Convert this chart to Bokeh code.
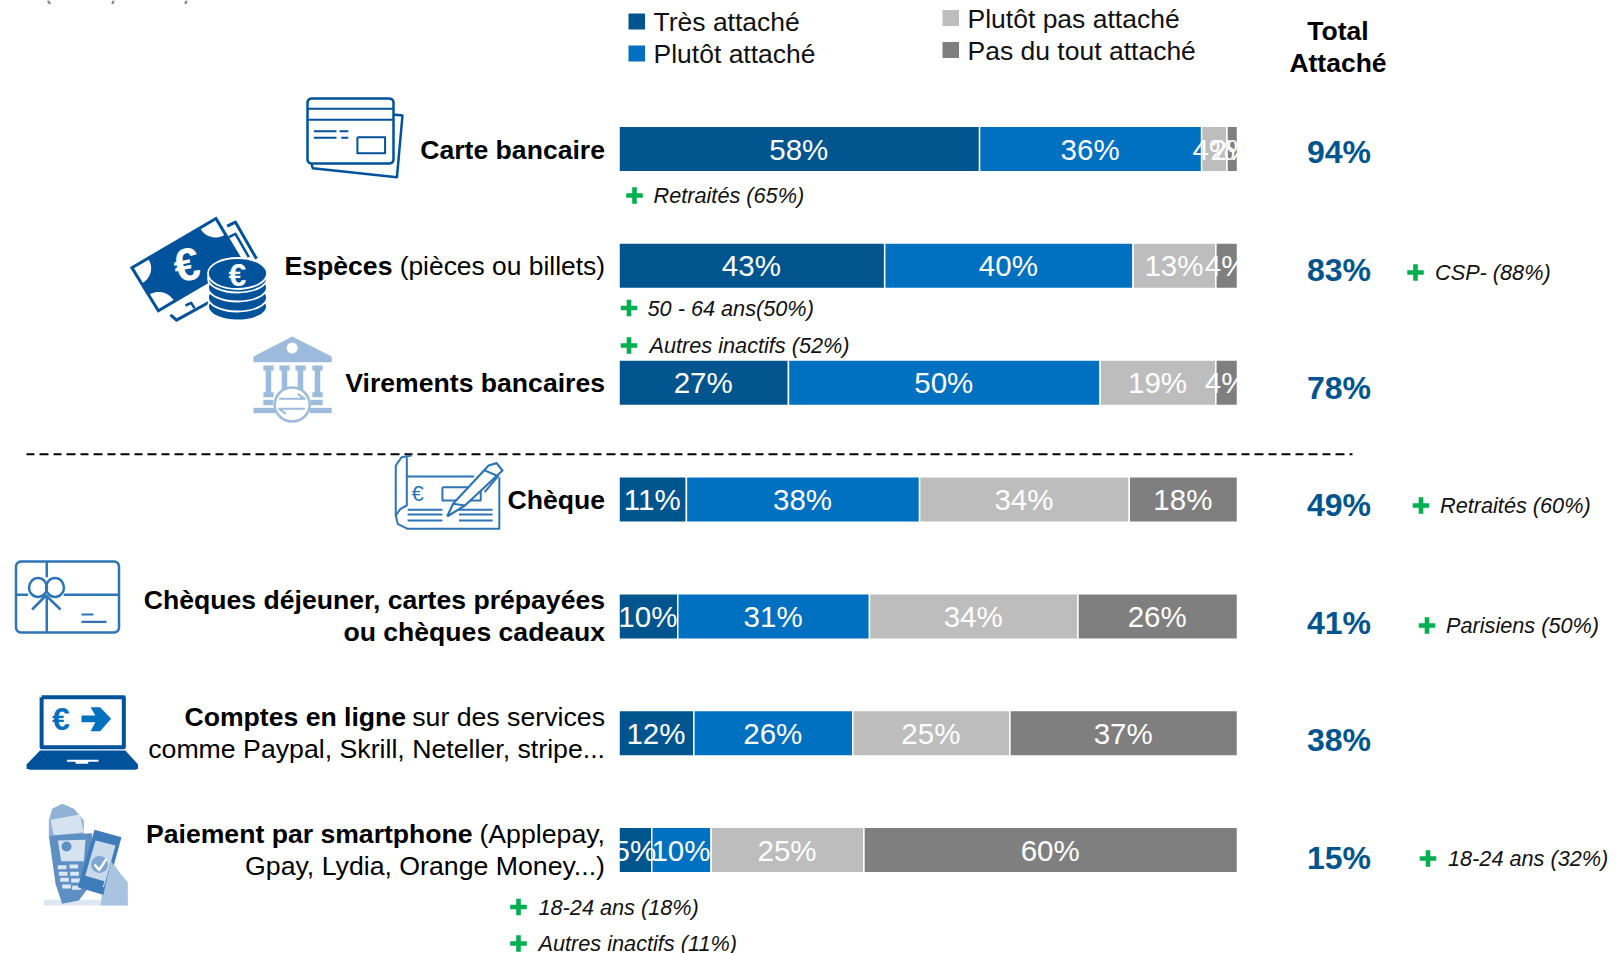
import numpy as np
from bokeh.plotting import figure
from bokeh.models import Range1d, ColumnDataSource
from bokeh.core.properties import value
from bokeh.embed import file_html
from bokeh.resources import INLINE

# ---------- data ----------
series = ["Très attaché", "Plutôt attaché", "Plutôt pas attaché", "Pas du tout attaché"]
colors = ["#00558F", "#0070C0", "#BDBDBD", "#7F7F7F"]
tres = [58.3, 43.0, 27.4, 10.9, 9.5, 12.1, 5.3]
plutot = [35.9, 40.2, 50.4, 37.7, 31.0, 25.7, 9.6]
plutot_pas = [4.1, 13.4, 18.7, 33.9, 33.7, 25.4, 24.7]
pas_du_tout = [1.7, 3.5, 3.5, 17.5, 25.8, 36.8, 60.4]
total = [94, 83, 78, 49, 41, 38, 15]

W, H = 1616, 953
FONT = value("Liberation Sans")
DARK = "#00529B"
MID = "#2E75B6"
LIGHT = "#9DBBDD"
GREEN = "#00B050"
TOTAL_C = "#00558F"
LB = 26.6
LR = 26.7

p = figure(width=W, height=H, x_range=Range1d(0, W), y_range=Range1d(H, 0),
           toolbar_location=None, output_backend="svg", min_border=0,
           outline_line_color=None, background_fill_color="white")
p.xaxis.visible = False
p.yaxis.visible = False
p.grid.visible = False

# scales of the bars: 0-100 % over the bar width, one unit per row
BX0, BX1 = 618.5, 1237.0
RY0, RP = 148.5, 116.85
sx = (BX1 - BX0) / 100
p.extra_x_ranges["pct"] = Range1d((0 - BX0) / sx, (W - BX0) / sx)
p.extra_y_ranges["row"] = Range1d((H - RY0) / RP, (0 - RY0) / RP)


def T(x, y, s, size, style="normal", color="black", align="left"):
    p.text(x=[x], y=[y], text=[s], text_font=FONT, text_font_size=f"{size}px",
           text_font_style=style, text_color=color, text_align=align, text_baseline="middle")


# ---------- bars ----------
rows = list(zip(tres, plutot, plutot_pas, pas_du_tout))
for j in range(4):
    l, r, y = [], [], []
    for i, vals in enumerate(rows):
        s = sum(vals)
        l.append(sum(vals[:j]) * 100 / s)
        r.append(sum(vals[:j + 1]) * 100 / s)
        y.append(i)
    src = ColumnDataSource(dict(l=l, r=r, y=y))
    p.hbar(y="y", left="l", right="r", height=45.5 / RP, source=src, fill_color=colors[j],
           line_color="white", line_width=1.5, x_range_name="pct", y_range_name="row")
for j in range(4):
    lab, m, y = [], [], []
    for i, vals in enumerate(rows):
        s = sum(vals)
        lab.append(f"{round(vals[j] + 1e-9)}%")
        m.append((sum(vals[:j]) + vals[j] / 2) * 100 / s)
        y.append(i)
    p.text(x=m, y=y, text=lab, text_font=FONT, text_font_size="29.5px", text_color="white",
           text_align="center", text_baseline="middle", x_range_name="pct", y_range_name="row",
           x_offset=-0.5)

# ---------- legend ----------
leg = [(628, 21, 653, 21.5), (628, 53, 653, 53.5), (942, 17.5, 967, 18.5), (942, 49.5, 967, 50.5)]
for (sxx, sy, tx, ty), name, c in zip(leg, series, colors):
    p.quad(left=[sxx], right=[sxx + 16.5], top=[sy - 8], bottom=[sy + 8], fill_color=c, line_color=None)
    T(tx, ty, name, 26.5, color="#111111")

T(1337.5, 30, "Total", 26.5, "bold", align="center")
T(1337.5, 62, "Attaché", 26.5, "bold", align="center")

# ---------- totals ----------
total_y = [151, 269, 387, 504, 622, 739, 857]
for v, y in zip(total, total_y):
    T(1338.5, y, f"{v}%", 32, "bold", TOTAL_C, "center")

# ---------- labels ----------
RX = 604.5
T(RX, 149, "Carte bancaire", LB, "bold", align="right")
T(284, 265, "Espèces", LB, "bold")
T(RX, 265, "(pièces ou billets)", 26.4, align="right")
T(RX, 382, "Virements bancaires", LB, "bold", align="right")
T(RX, 499, "Chèque", LB, "bold", align="right")
T(RX, 599.5, "Chèques déjeuner, cartes prépayées", LB, "bold", align="right")
T(RX, 631.5, "ou chèques cadeaux", LB, "bold", align="right")
T(184, 716.5, "Comptes en ligne", LB, "bold")
T(RX, 716.5, "sur des services", LR, align="right")
T(RX, 748.5, "comme Paypal, Skrill, Neteller, stripe...", LR, align="right")
T(145.5, 833.5, "Paiement par smartphone", LB, "bold")
T(RX, 833.5, "(Applepay,", LR, align="right")
T(RX, 865.5, "Gpay, Lydia, Orange Money...)", LR, align="right")

# ---------- sub-groups ----------
sub = [(634, 653, 195, "Retraités (65%)"), (628.5, 647, 307.5, "50 - 64 ans(50%)"),
       (628.5, 649, 345, "Autres inactifs (52%)"), (1415, 1434.5, 272, "CSP- (88%)"),
       (1420.5, 1439.5, 505, "Retraités (60%)"), (1426.5, 1445.5, 625, "Parisiens (50%)"),
       (1427.5, 1447.5, 858, "18-24 ans (32%)"), (518, 538, 906.5, "18-24 ans (18%)"),
       (518, 538, 943, "Autres inactifs (11%)")]
for px, tx, y, s in sub:
    p.scatter(x=[px], y=[y], marker="cross", size=16.5, line_color=GREEN, line_width=4.6)
    T(tx, y, s, 21.7, "italic", "#111111")

# dashed separator
p.line([26, 1352], [453.7, 453.7], line_color="black", line_width=2, line_dash="8 5 9 5")

# cut-off strokes of the clipped heading at the very top
for xs in ([47.5, 49.5], [113, 112], [186, 185]):
    p.line(xs, [0, 3.5], line_color="#8C8C8C", line_width=2.5)


# ---------- icons (decoration) ----------
def Z1(pts):
    return [x / 2.53 for x, y in pts], [y / 3 for x, y in pts]


def Z2(pts):
    return [x / 2.53 for x, y in pts], [y / 3 + 440 for x, y in pts]


def Zc(pts):  # cash crop
    return [x / 3 + 120 for x, y in pts], [y / 3 + 205 for x, y in pts]


def Zp(pts):  # phone crop
    return [x / 3 + 20 for x, y in pts], [y / 3 + 790 for x, y in pts]


def pl(Z, pts, c, w=2.5):
    xs, ys = Z(pts)
    p.line(xs, ys, line_color=c, line_width=w, line_join="round")


def pg(Z, pts, c):
    xs, ys = Z(pts)
    p.patch(xs, ys, fill_color=c, line_color=None)


def rrect(x0, y0, x1, y1, r):
    xs, ys = [], []
    for cx, cy, a0 in [(x1 - r, y0 + r, -90), (x1 - r, y1 - r, 0), (x0 + r, y1 - r, 90), (x0 + r, y0 + r, 180)]:
        for a in np.radians(np.linspace(a0, a0 + 90, 7)):
            xs.append(cx + r * np.cos(a))
            ys.append(cy + r * np.sin(a))
    return xs + xs[:1], ys + ys[:1]


def ell(cx, cy, rx, ry, fill, line=None, w=1.5):
    p.ellipse(x=[cx], y=[cy], width=[2 * rx], height=[2 * ry], fill_color=fill, line_color=line, line_width=w)


# card
xs, ys = rrect(307, 98, 393, 163, 4)
pl(Z1, [(994, 342), (1017, 345), (1003, 530), (790, 503), (787, 490)], DARK, 2.5)
p.line(xs, ys, line_color=DARK, line_width=2.5)
for a, b in [((776, 325), (994, 325)), ((776, 358), (994, 358)), ((793, 392), (850, 392)), ((858, 392), (880, 392)),
             ((793, 412), (850, 412)), ((862, 412), (880, 412))]:
    pl(Z1, [a, b], DARK, 2)
pl(Z1, [(903, 410), (973, 410), (973, 458), (903, 458), (903, 410)], DARK, 2)

# cash
pl(Zc, [(320, 62), (345, 50), (408, 160)], DARK, 3)
pl(Zc, [(325, 95), (345, 85), (385, 155)], DARK, 2.5)
pl(Zc, [(150, 328), (168, 344), (270, 288)], DARK, 3)
pl(Zc, [(195, 300), (212, 292), (222, 308)], DARK, 2.5)
note = [(28, 185), (288, 33), (370, 170), (112, 322)]
pg(Zc, note, DARK)
nx = np.array(Zc(note)).T
for i in (0, 1, 3):
    C = nx[i]
    u = nx[(i + 1) % 4] - C
    v = nx[(i - 1) % 4] - C
    u = u / np.linalg.norm(u)
    v = v / np.linalg.norm(v)
    C2 = C + 3 * u + 3 * v
    fan = [C2 + 17 * (u * np.cos(t) + v * np.sin(t)) for t in np.linspace(0, np.pi / 2, 12)]
    p.patch([C2[0]] + [f[0] for f in fan], [C2[1]] + [f[1] for f in fan], fill_color="white", line_color=None)
p.text(x=[186], y=[264], text=["€"], text_font=FONT, text_font_size="46px", text_font_style="bold",
       text_color="white", text_align="center", text_baseline="middle", angle=[0.2])
for cy in [306, 297, 287, 278]:
    ell(237, cy, 29.5, 14, DARK, "white", 1.8)
ell(237, 273, 29.5, 15.5, DARK, "white", 1.8)
T(237, 274, "€", 32, "bold", "white", "center")

# bank
pg(Z1, [(738, 1008), (838, 1068), (838, 1085), (640, 1085), (640, 1068)], LIGHT)
ell(291.7, 347.5, 5.5, 5.5, "white")
for cx in [268, 284, 300, 317]:
    pg(Z1, [(cx * 2.53 - 13, 1095), (cx * 2.53 + 13, 1095), (cx * 2.53 + 13, 1110), (cx * 2.53 + 7, 1110),
            (cx * 2.53 + 7, 1175), (cx * 2.53 + 13, 1175), (cx * 2.53 + 13, 1190), (cx * 2.53 - 13, 1190),
            (cx * 2.53 - 13, 1175), (cx * 2.53 - 7, 1175), (cx * 2.53 - 7, 1110), (cx * 2.53 - 13, 1110)], LIGHT)
for a, b, y0, y1 in [(665, 690, 1198, 1214), (785, 815, 1198, 1214), (640, 695, 1222, 1238), (783, 838, 1222, 1238)]:
    pg(Z1, [(a, y0), (b, y0), (b, y1), (a, y1)], LIGHT)
ell(291.7, 404, 17.5, 17, "white", LIGHT, 2.5)
pl(Z1, [(705, 1195), (770, 1195), (752, 1180)], LIGHT, 2)
pl(Z1, [(770, 1225), (705, 1225), (722, 1240)], LIGHT, 2)

# cheque
pl(Z2, [(1040, 45), (1015, 50), (1000, 75), (1000, 225), (1005, 250), (1030, 265), (1262, 265), (1262, 110)], MID, 2)
pl(Z2, [(1000, 225), (1012, 205), (1028, 195), (1028, 50)], MID, 2)
pl(Z2, [(1028, 108), (1198, 108)], MID, 2)
T(417, 493, "€", 22, "normal", MID, "center")
pl(Z2, [(1118, 140), (1215, 140), (1215, 180), (1118, 180), (1118, 140)], MID, 2)
for y in [208, 222, 240]:
    pl(Z2, [(1030, y), (1118, y)], MID, 2)
    pl(Z2, [(1160, y), (1245, y)], MID, 2)
pg(Z2, [(1130, 228), (1145, 190), (1235, 75), (1270, 90), (1175, 195)], "white")
pl(Z2, [(1130, 228), (1145, 190), (1235, 75), (1255, 68), (1270, 90), (1175, 195), (1130, 228)], MID, 2.2)
pl(Z2, [(1222, 88), (1255, 105)], MID, 2)
pl(Z2, [(1145, 190), (1175, 195)], MID, 2)
pl(Z2, [(1225, 155), (1260, 105)], MID, 2)

# gift card
xs, ys = rrect(15.5, 561, 118.5, 632, 5)
p.line(xs, ys, line_color=MID, line_width=2.5)
pl(Z2, [(117, 362), (117, 410)], MID, 2.5)
pl(Z2, [(117, 470), (117, 576)], MID, 2.5)
pl(Z2, [(38, 463), (70, 463)], MID, 2.5)
pl(Z2, [(160, 463), (300, 463)], MID, 2.5)
ell(37.5, 587, 9, 9.5, None, MID, 2.5)
ell(54.5, 587, 9, 9.5, None, MID, 2.5)
pl(Z2, [(80, 507), (115, 465), (152, 507)], MID, 2.5)
pl(Z2, [(205, 522), (235, 522)], MID, 2.2)
pl(Z2, [(205, 544), (268, 544)], MID, 2.2)

# laptop
pl(Z2, [(104, 770), (312, 770), (312, 920), (104, 920), (104, 770)], DARK, 4)
pg(Z2, [(100, 930), (316, 930), (348, 972), (348, 985), (340, 988), (75, 988), (66, 985), (66, 972)], DARK)
pg(Z2, [(168, 958), (248, 958), (248, 964), (222, 964), (222, 970), (190, 970), (190, 964), (168, 964)], "white")
T(60.5, 718, "€", 32, "bold", "#0070C0", "center")
pg(Z2, [(205, 825), (240, 825), (228, 800), (252, 800), (280, 835), (252, 872), (228, 872), (240, 845), (205, 845)], "#0070C0")

# phone & terminal
pg(Zp, [(70, 328), (320, 328), (320, 345), (70, 345)], "#DCE7F3")
pg(Zp, [(240, 345), (250, 270), (272, 210), (300, 250), (322, 275), (322, 345)], "#A9C4E0")
pg(Zp, [(85, 90), (95, 55), (125, 40), (160, 55), (190, 90), (190, 135), (85, 135)], "#8FB2D6")
pg(Zp, [(90, 88), (178, 72), (190, 125), (100, 135)], "#D5E2F0")
pg(Zp, [(85, 135), (215, 128), (205, 290), (175, 330), (125, 340), (105, 280)], "#5E90C4")
pg(Zp, [(112, 150), (195, 148), (190, 212), (122, 212)], "#D5E2F0")
ell(66, 846, 5, 5, "#5E90C4")
for kx, ky in [(125, 230), (160, 228), (128, 250), (162, 250), (132, 268), (165, 270), (138, 288), (168, 292)]:
    pg(Zp, [(kx - 13, ky - 6), (kx + 13, ky - 6), (kx + 13, ky + 6), (kx - 13, ky + 6)], "#DCE7F3")
pg(Zp, [(222, 118), (303, 140), (255, 315), (172, 290)], "#3F7DBA")
pg(Zp, [(225, 150), (285, 165), (250, 290), (190, 270)], "#C9DAEC")
ell(99, 864, 8.5, 8.5, "#7FA6CF")
pl(Zp, [(222, 222), (236, 238), (258, 205)], "white", 2.5)
pg(Zp, [(192, 255), (252, 272), (246, 292), (186, 275)], "#3F7DBA")
pg(Zp, [(258, 270), (272, 212), (290, 240), (310, 265), (310, 330), (245, 330)], "#A9C4E0")

open("out.html", "w").write(file_html(p, INLINE))
